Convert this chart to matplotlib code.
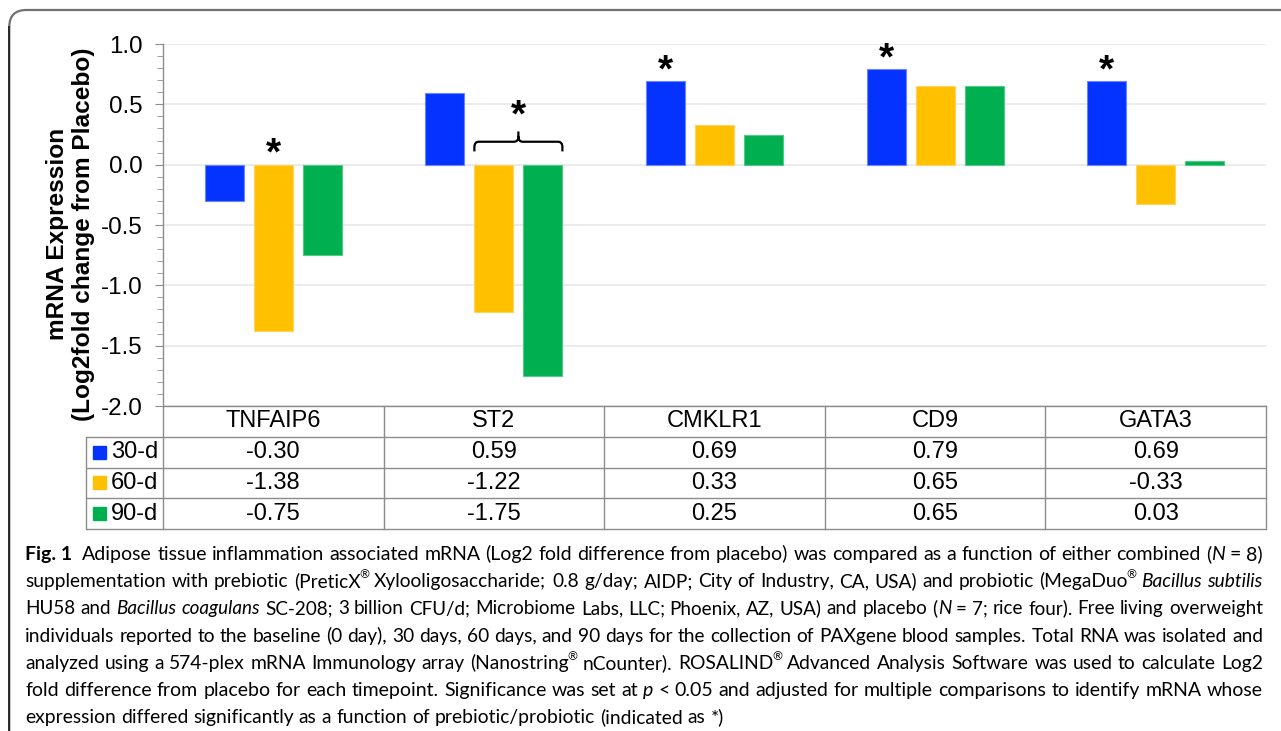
import matplotlib
matplotlib.use('Agg')
import matplotlib.pyplot as plt
import numpy as np
from matplotlib.patches import Rectangle, FancyBboxPatch, PathPatch
from matplotlib.path import Path
from matplotlib.ticker import MultipleLocator

# ---------------- data ----------------
genes = ['TNFAIP6', 'ST2', 'CMKLR1', 'CD9', 'GATA3']
series_labels = ['30-d', '60-d', '90-d']
d30 = [-0.30, 0.59, 0.69, 0.79, 0.69]
d60 = [-1.38, -1.22, 0.33, 0.65, -0.33]
d90 = [-0.75, -1.75, 0.25, 0.65, 0.03]
value_labels_30 = ['-0.30', '0.59', '0.69', '0.79', '0.69']
value_labels_60 = ['-1.38', '-1.22', '0.33', '0.65', '-0.33']
value_labels_90 = ['-0.75', '-1.75', '0.25', '0.65', '0.03']
sig_marks = [(0, 1), (2, 0), (3, 0), (4, 0)]   # (gene index, series index) marked with *
brace_mark = (1, 1, 2)                          # gene index, first series, last series under one *
yticks = [-2.0, -1.5, -1.0, -0.5, 0.0, 0.5, 1.0]
ylabel_lines = ['mRNA Expression', '(Log2fold change from Placebo)']

caption_lines = [
    "**Fig.\u00a01**  Adipose tissue inflammation associated mRNA (Log2 fold difference from placebo) was compared as a function of either combined (_N_ = 8)",
    "supplementation with prebiotic (PreticX^\u00ae^ Xylooligosaccharide; 0.8 g/day; AIDP; City of Industry, CA, USA) and probiotic (MegaDuo^\u00ae^ _Bacillus subtilis_",
    "HU58 and _Bacillus coagulans_ SC-208; 3 billion CFU/d; Microbiome Labs, LLC; Phoenix, AZ, USA) and placebo (_N_ = 7; rice four). Free living overweight",
    "individuals reported to the baseline (0 day), 30 days, 60 days, and 90 days for the collection of PAXgene blood samples. Total RNA was isolated and",
    "analyzed using a 574-plex mRNA Immunology array (Nanostring^\u00ae^ nCounter). ROSALIND^\u00ae^ Advanced Analysis Software was used to calculate Log2",
    "fold difference from placebo for each timepoint. Significance was set at _p_ < 0.05 and adjusted for multiple comparisons to identify mRNA whose",
    "expression differed significantly as a function of prebiotic/probiotic (indicated as *)",
]

# ---------------- style ----------------
colors = ['#0433FF', '#FFC000', '#00B050']
edge_colors = ['#6A85FF', '#FFD45C', '#4FCB86']
grid_c = '#8c8c8c'
plt.rcParams['font.family'] = ['Liberation Sans', 'DejaVu Sans']
cap_family = ['Lato', 'DejaVu Sans']

W, H, DPI = 1281, 731, 100
fig = plt.figure(figsize=(W / DPI, H / DPI), dpi=DPI)
fig.patch.set_facecolor('white')


def fx(px):
    return px / W


def fy(py):
    return 1 - py / H


# frame (rounded, open to right/bottom)
frame = FancyBboxPatch((0.093, -1.0), 20.0, 7.21 + 1.0,
                       boxstyle='round,pad=0,rounding_size=0.17',
                       transform=fig.dpi_scale_trans, fill=False,
                       ec='#707070', lw=1.6)
fig.add_artist(frame)
fig.add_artist(plt.Line2D([fx(9.3), fx(9.3)], [0, fy(27)], color='#2a2a2a',
                          lw=1.4, transform=fig.transFigure))

# ---------------- bar axes ----------------
ax_l, ax_r, ax_t, ax_b = 163, 1266, 44, 406
ax = fig.add_axes([fx(ax_l), fy(ax_b), (ax_r - ax_l) / W, (ax_b - ax_t) / H])
x = np.arange(len(genes))
values = [d30, d60, d90]
bw, step = 0.177, 0.222
for i, (vals, c, ec) in enumerate(zip(values, colors, edge_colors)):
    ax.bar(x + (i - 1) * step, vals, width=bw, color=c, edgecolor=ec,
           linewidth=0.8, zorder=3)
ax.set_xlim(-0.5, len(genes) - 0.5)
ax.set_ylim(-2, 1)
ax.set_yticks(yticks)
ax.set_yticklabels([f'{t:.1f}' for t in yticks])
ax.yaxis.set_minor_locator(MultipleLocator(0.1))
ax.set_xticks([])
ax.grid(axis='y', which='major', color='#e9e9e9', lw=1.3, zorder=0)
ax.set_axisbelow(True)
for s in ['top', 'right']:
    ax.spines[s].set_visible(False)
for s in ['left', 'bottom']:
    ax.spines[s].set_color(grid_c)
    ax.spines[s].set_linewidth(1.0)
ax.tick_params(axis='y', which='major', length=5.8, color=grid_c,
               labelsize=17.4, pad=9)
ax.tick_params(axis='y', which='minor', length=4.3, color=grid_c)

# significance asterisks
for g, s in sig_marks:
    ax.text(g + (s - 1) * step, max(values[s][g], 0), '*', ha='center',
            va='baseline', fontsize=28, fontweight='bold', zorder=5)

# brace + asterisk
g, s0, s1 = brace_mark
left = g + (s0 - 1) * step - bw / 2
right = g + (s1 - 1) * step + bw / 2
mid = (left + right) / 2
y_tip, y_bar, y_peak = 0.11, 0.19, 0.275
rx, ry = 0.02, 0.045
verts = [(left, y_tip), (left, y_bar - ry), (left, y_bar), (left + rx, y_bar),
         (mid - rx, y_bar), (mid, y_bar), (mid, y_bar + ry), (mid, y_peak),
         (mid, y_bar + ry), (mid, y_bar), (mid + rx, y_bar),
         (right - rx, y_bar), (right, y_bar), (right, y_bar - ry), (right, y_tip)]
codes = [Path.MOVETO, Path.LINETO, Path.CURVE3, Path.CURVE3,
         Path.LINETO, Path.CURVE3, Path.CURVE3, Path.LINETO,
         Path.MOVETO, Path.CURVE3, Path.CURVE3,
         Path.LINETO, Path.CURVE3, Path.CURVE3, Path.LINETO]
ax.add_patch(PathPatch(Path(verts, codes), fill=False, lw=1.6, ec='black',
                       zorder=5, clip_on=False, capstyle='butt'))
ax.text(mid, y_peak + 0.045, '*', ha='center', va='baseline', fontsize=28,
        fontweight='bold', zorder=5)

# y label
fig.text(fx(70.5), fy(234), '\n'.join(ylabel_lines), rotation=90, ha='center',
         va='center', multialignment='center', fontsize=17.6,
         fontweight='bold', linespacing=1.2)

# ---------------- data table ----------------
tab_l, tab_b = 86, 529
tax = fig.add_axes([fx(tab_l), fy(tab_b), (ax_r - tab_l) / W, (tab_b - ax_b) / H])
cat_px = (ax_r - ax_l) / len(genes)
xl = -0.5 - (ax_l - tab_l) / cat_px
tax.set_xlim(xl, len(genes) - 0.5)
tax.set_ylim(0, 4)
tax.axis('off')
lw_t = 1.0
for yy in [0, 1, 2, 3]:
    tax.plot([xl, len(genes) - 0.5], [yy, yy], color=grid_c, lw=lw_t,
             clip_on=False, solid_capstyle='butt')
for k in range(len(genes) + 1):
    tax.plot([k - 0.5, k - 0.5], [0, 4], color=grid_c, lw=lw_t, clip_on=False)
tax.plot([xl, xl], [0, 3], color=grid_c, lw=lw_t, clip_on=False)
for k, gname in enumerate(genes):
    tax.text(k, 3.5, gname, ha='center', va='center', fontsize=17)
val_labels = [value_labels_30, value_labels_60, value_labels_90]
px_per_row = (tab_b - ax_b) / 4
for r, (lab, labs, c) in enumerate(zip(series_labels, val_labels, colors)):
    yc = 2.5 - r
    for k, v in enumerate(labs):
        tax.text(k, yc, v, ha='center', va='center', fontsize=17)
    sq = 13
    tax.add_patch(Rectangle((xl + (93 - tab_l) / cat_px, yc - sq / 2 / px_per_row),
                            sq / cat_px, sq / px_per_row, color=c, clip_on=False))
    tax.text(xl + (111 - tab_l) / cat_px, yc, lab, ha='left', va='center',
             fontsize=17)

# ---------------- caption ----------------
renderer = fig.canvas.get_renderer()


def parse_line(s):
    words = [[]]
    st = {'b': False, 'i': False, 's': False}
    buf = ['']

    def flush():
        if buf[0]:
            words[-1].append((buf[0], st['b'], st['i'], st['s']))
            buf[0] = ''
    i = 0
    while i < len(s):
        if s.startswith('**', i):
            flush(); st['b'] = not st['b']; i += 2; continue
        ch = s[i]
        if ch == '_':
            flush(); st['i'] = not st['i']; i += 1; continue
        if ch == '^':
            flush(); st['s'] = not st['s']; i += 1; continue
        if ch == ' ':
            flush(); words.append([]); i += 1; continue
        buf[0] += ch
        i += 1
    flush()
    return words


fs0 = 14.0
cap_x0, cap_x1 = 25, 1263
base0, lead = 560, 27.2


def make_piece(txt, b, it, sup, fs):
    return fig.text(0, 0, txt, fontsize=fs * (0.62 if sup else 1.0),
                    fontweight='bold' if b else 'normal',
                    fontstyle='italic' if it else 'normal',
                    family=cap_family, va='baseline', ha='left')


def width_of(t):
    return t.get_window_extent(renderer).width


# measure space width
ta = make_piece('a a', False, False, False, fs0)
tb = make_piece('aa', False, False, False, fs0)
space0 = width_of(ta) - width_of(tb)
ta.remove(); tb.remove()

lines = []
for s in caption_lines:
    words = parse_line(s)
    objs = []
    for w in words:
        wl = []
        for (txt, b, it, sup) in w:
            t = make_piece(txt, b, it, sup, fs0)
            wl.append((t, width_of(t), sup))
        objs.append(wl)
    lines.append(objs)


def natural(objs, sp):
    ws = [sum(p[1] for p in w) for w in objs]
    return sum(ws) + sp * (len(objs) - 1), ws


target = cap_x1 - cap_x0
fits = [target / natural(o, space0)[0] for o in lines[:-1]]
med = float(np.median(fits))
scales = [min(max(f, med * 0.96), med * 1.04) for f in fits] + [med]
sup_kern = 1.5

for li, objs in enumerate(lines):
    scale = scales[li]
    fs = fs0 * scale
    nat, ws = natural(objs, space0)
    ws = [w * scale for w in ws]
    nsup = sum(1 for w in objs for p in w if p[2])
    ngap = len(objs) - 1
    if li < len(lines) - 1:
        gap = (target - sum(ws) + sup_kern * nsup) / ngap
    else:
        gap = space0 * scale
    yb = base0 + li * lead
    xcur = cap_x0
    for wi, w in enumerate(objs):
        for (t, wd, sup) in w:
            if sup:
                xcur -= sup_kern
            t.set_fontsize(fs * (0.62 if sup else 1.0))
            yy = yb - (fs * 0.45 * DPI / 72 if sup else 0)
            t.set_position((fx(xcur), fy(yy)))
            xcur += wd * scale
        xcur += gap

fig.savefig('out.png', dpi=DPI)
